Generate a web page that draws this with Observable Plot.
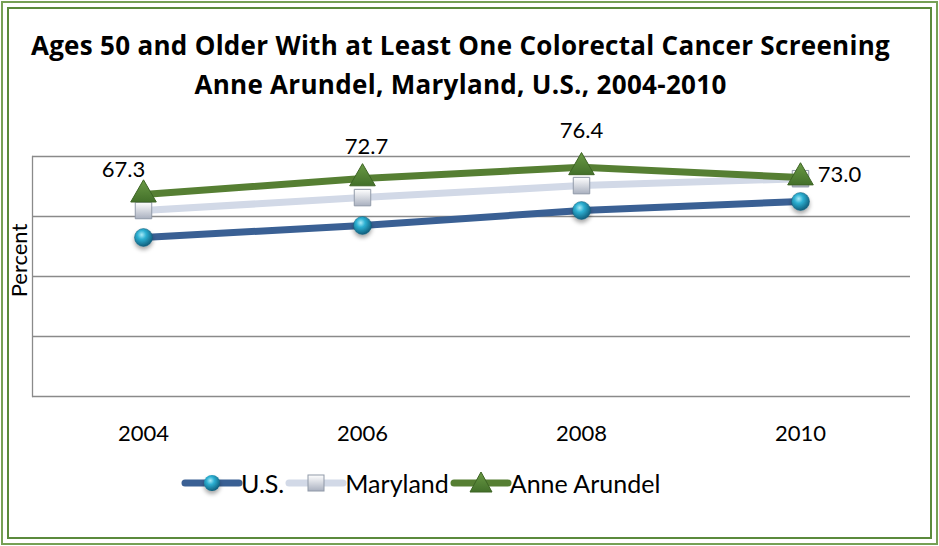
<!DOCTYPE html>
<html><head><meta charset="utf-8">
<script src="https://cdn.jsdelivr.net/npm/d3@7"></script>
<script src="https://cdn.jsdelivr.net/npm/@observablehq/plot@0.6"></script>
<style>
body{margin:0;background:#fff;}
#wrap{position:relative;width:939px;height:546px;overflow:hidden;font-family:Lato, "Open Sans", sans-serif;color:#000;}
.b1{position:absolute;left:1px;top:1px;right:1px;bottom:1px;border:2px solid #76a055;}
.b2{position:absolute;left:7px;top:7px;right:7px;bottom:7px;border:2px solid #5b8a3c;}
#title{position:absolute;left:-9px;width:939px;top:26px;text-align:center;font-family:"Open Sans", Lato, sans-serif;font-weight:700;font-size:26px;line-height:39px;letter-spacing:0.3px;}
#chart{position:absolute;left:0;top:100px;}
#legend{position:absolute;left:185px;top:469px;display:flex;align-items:center;font-size:25px;line-height:28px;}
#legend .item{display:flex;align-items:center;margin-right:5px;}
#legend svg{display:block;margin-right:2px;}
</style></head>
<body>
<div id="wrap">
  <div class="b1"></div><div class="b2"></div>
  <div id="title">Ages 50 and Older With at Least One Colorectal Cancer Screening<br>Anne Arundel, Maryland, U.S., 2004-2010</div>
  <div id="chart"></div>
  <div id="legend"></div>
</div>
<script>
const years = ["2004", "2006", "2008", "2010"];
const seriesNames = ["U.S.", "Maryland", "Anne Arundel"];
const usValues = [53.0, 57.0, 62.0, 65.0];
const marylandValues = [62.0, 66.3, 70.3, 72.6];
const anneArundelValues = [67.3, 72.7, 76.4, 73.0];
const yTicks = [0, 20, 40, 60, 80];

// label offsets (styling)
const labelOffsets = [[-20, -25], [4, -31], [0, -36], [39, -3]];

const toRows = vals => years.map((year, i) => ({year, value: vals[i]}));
const us = toRows(usValues), md = toRows(marylandValues), aa = toRows(anneArundelValues);

const colUS = "#3a6094", colMD = "#d2d9e7", colAA = "#567f33";

const plot = Plot.plot({
  width: 939, height: 360,
  marginLeft: 32, marginRight: 29, marginTop: 56, marginBottom: 64,
  x: {type: "point", domain: years, padding: 0.5, axis: null},
  y: {domain: [0, 80], axis: null},
  style: {fontFamily: "Lato, 'Open Sans', sans-serif", fontSize: "22px", color: "#000", background: "transparent", overflow: "visible"},
  marks: [
    Plot.ruleY(yTicks, {stroke: "#8a8a8a", strokeWidth: 1.3}),
    Plot.frame({anchor: "left", stroke: "#8a8a8a", strokeWidth: 1.3}),
    Plot.axisX({tickSize: 0, tickPadding: 29, label: null, fontSize: 22}),
    Plot.text(["Percent"], {frameAnchor: "left", textAnchor: "middle", rotate: -90, dx: -13, dy: -16, fontSize: 22}),
    Plot.line(us, {x: "year", y: "value", stroke: colUS, strokeWidth: 7}),
    Plot.dot(us, {x: "year", y: "value", r: 9, fill: "url(#gBall)", stroke: "#0f5d7a", strokeWidth: 0.5}),
    Plot.line(md, {x: "year", y: "value", stroke: colMD, strokeWidth: 7}),
    Plot.dot(md, {x: "year", y: "value", symbol: "square", r: 9.3, fill: "url(#gSq)", stroke: "#9099a8", strokeWidth: 1}),
    Plot.line(aa, {x: "year", y: "value", stroke: colAA, strokeWidth: 7}),
    Plot.dot(aa, {x: "year", y: "value", symbol: "triangle", r: 9.5, fill: "url(#gTri)", stroke: "#3d6424", strokeWidth: 1}),
    ...aa.map((d, i) => Plot.text([d], {x: "year", y: "value", text: r => r.value.toFixed(1), dx: labelOffsets[i][0], dy: labelOffsets[i][1], fontSize: 22}))
  ]
});

d3.select(plot).insert("defs", ":first-child").html(`
  <radialGradient id="gBall" cx="40%" cy="35%" r="70%">
    <stop offset="0" stop-color="#a8eaf7"/><stop offset="0.35" stop-color="#2db0d2"/><stop offset="1" stop-color="#0c5573"/>
  </radialGradient>
  <linearGradient id="gSq" x1="0" y1="0" x2="0" y2="1">
    <stop offset="0" stop-color="#ffffff"/><stop offset="1" stop-color="#a9b0bf"/>
  </linearGradient>
  <linearGradient id="gTri" x1="0" y1="0" x2="0" y2="1">
    <stop offset="0" stop-color="#6a9a45"/><stop offset="1" stop-color="#43702a"/>
  </linearGradient>
  <filter id="sh" x="-60%" y="-60%" width="220%" height="220%">
    <feDropShadow dx="0" dy="3" stdDeviation="2" flood-color="#000" flood-opacity="0.35"/>
  </filter>`);
d3.select(plot).selectAll('g[aria-label="dot"]').filter((d, i) => i === 0).attr("filter", "url(#sh)");
document.getElementById("chart").appendChild(plot);

// legend
const legend = d3.select("#legend");
const swatch = [
  {name: seriesNames[0], color: colUS, marker: g => g.append("circle").attr("cx", 27).attr("cy", 14).attr("r", 8).attr("fill", "url(#gBall)").attr("filter", "url(#sh)")},
  {name: seriesNames[1], color: colMD, marker: g => g.append("rect").attr("x", 19).attr("y", 6).attr("width", 16).attr("height", 16).attr("fill", "url(#gSq)").attr("stroke", "#9099a8")},
  {name: seriesNames[2], color: colAA, marker: g => g.append("path").attr("d", "M27,3 L38,23 L16,23 Z").attr("fill", "url(#gTri)").attr("stroke", "#3d6424")}
];
swatch.forEach(s => {
  const it = legend.append("div").attr("class", "item");
  const sv = it.append("svg").attr("width", 54).attr("height", 28).style("overflow", "visible");
  sv.append("line").attr("x1", 0).attr("x2", 54).attr("y1", 14).attr("y2", 14).attr("stroke", s.color).attr("stroke-width", 7).attr("stroke-linecap", "round");
  s.marker(sv);
  it.append("span").text(s.name);
});
</script>
</body></html>
